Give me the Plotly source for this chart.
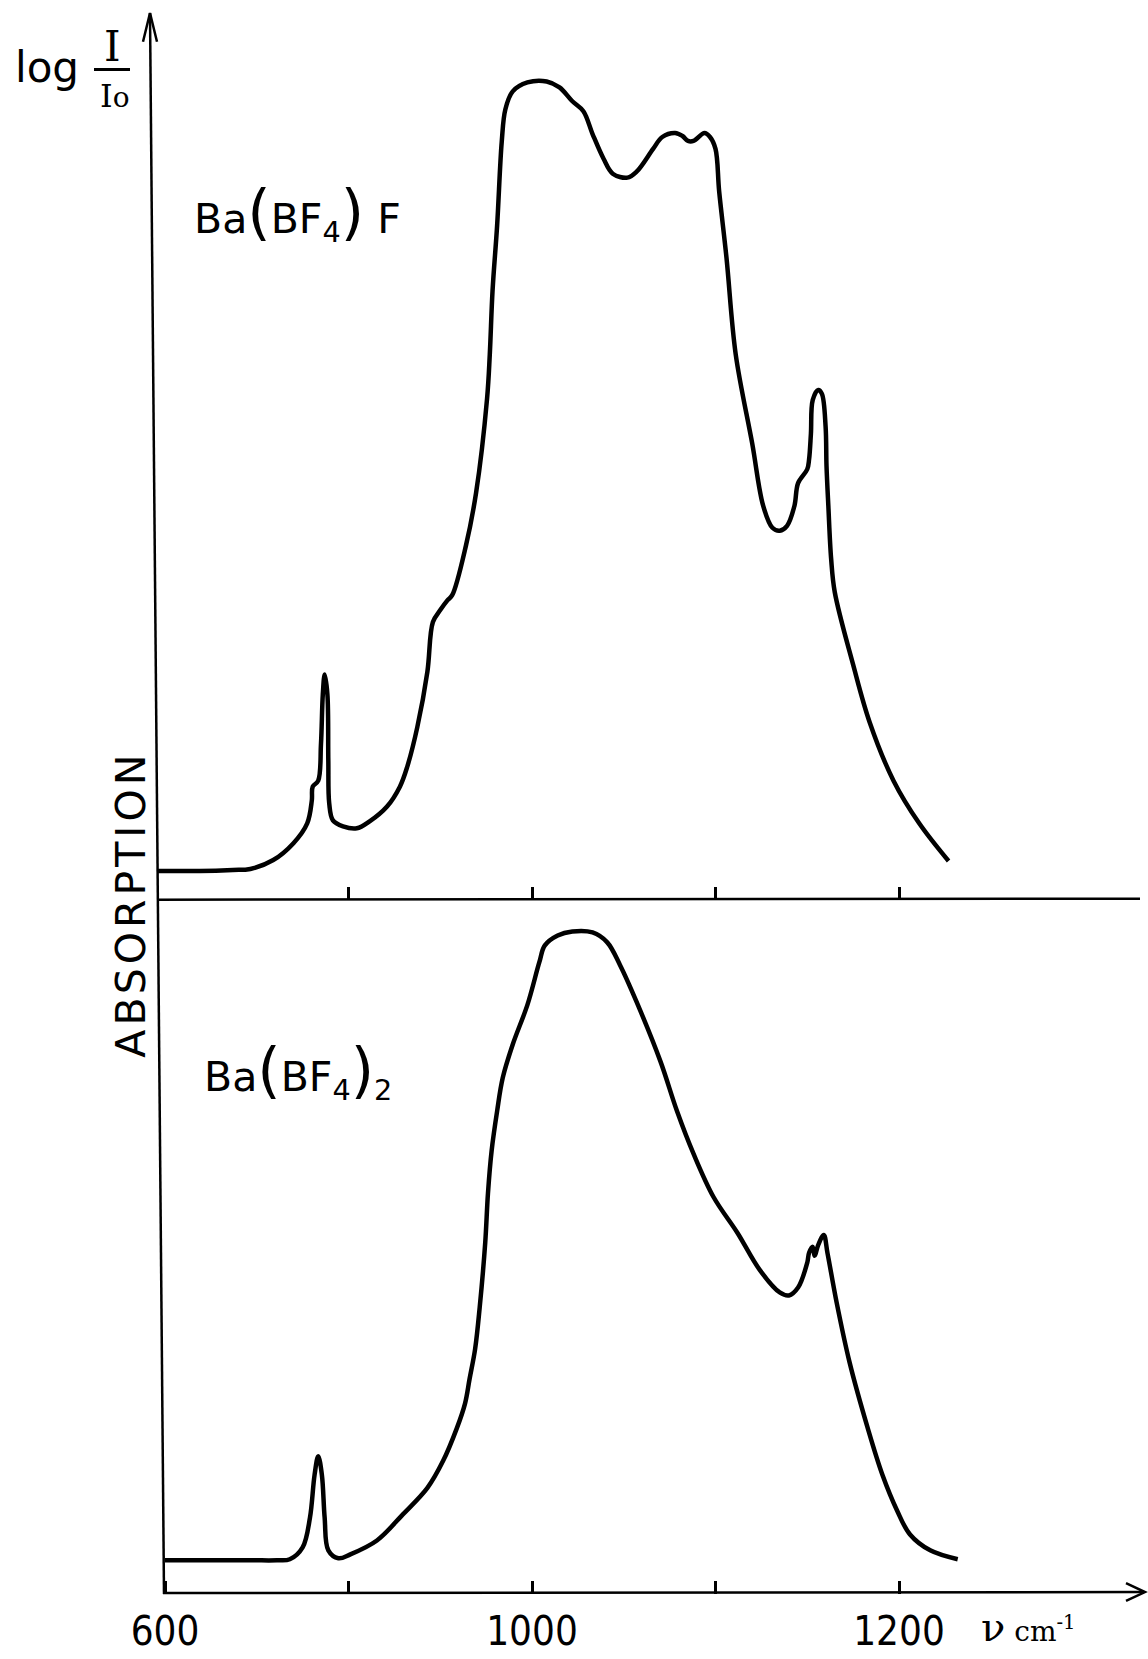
import plotly.graph_objects as go

# ---------------- data ----------------
# Ba(BF4)F  : wavenumber (cm-1) / relative absorption
top_wn = [592, 638, 674, 693, 718, 740, 755, 760, 761, 767, 770, 772, 774, 777, 778, 779,
          783, 794, 809, 823, 842, 856, 864, 875, 886, 892, 900, 908, 913, 928, 939, 951,
          954, 957, 962, 967, 971, 979, 995, 1008, 1015, 1022, 1028, 1033, 1039, 1044,
          1052, 1057, 1066, 1071, 1078, 1082, 1085, 1088, 1094, 1097, 1100, 1102, 1106,
          1111, 1120, 1126, 1131, 1135, 1139, 1143, 1145, 1150, 1151, 1152, 1153, 1156,
          1158, 1160, 1160.5, 1161.5, 1163, 1165, 1175, 1184, 1197, 1211, 1227]
top_abs = [2.9, 2.9, 3.0, 3.1, 4.0, 5.7, 7.7, 10.0, 11.4, 12.0, 15.7, 20.7, 22.7, 20.7, 14.0, 9.7,
           8.0, 7.4, 7.2, 7.9, 9.4, 11.4, 13.4, 17.4, 23.0, 28.0, 29.2, 30.2, 30.7, 35.7, 41.0, 50.5,
           55.0, 61.4, 68.0, 76.4, 79.7, 81.5, 82.4, 82.5, 81.9, 80.5, 79.5, 77.2, 74.7, 73.2,
           72.8, 73.4, 75.7, 76.9, 77.3, 77.0, 76.5, 76.5, 77.3, 76.9, 75.7, 71.4, 64.7,
           55.0, 46.0, 39.7, 37.5, 37.2, 37.7, 39.7, 42.0, 43.4, 44.4, 47.0, 50.4, 51.4,
           51.0, 47.7, 43.7, 39.7, 34.4, 31.0, 23.7, 17.9, 12.0, 7.7, 3.9]

# Ba(BF4)2
bot_wn = [600, 693, 722, 736, 750, 758, 763, 767, 771, 774, 778, 789, 802, 831, 859, 886,
          903, 918, 927, 932, 938, 943, 949, 952, 956, 962, 968, 979, 995, 1004, 1007, 1014,
          1022, 1033, 1041, 1048, 1057, 1070, 1079, 1088, 1099, 1112, 1124, 1135, 1140,
          1145, 1150, 1151, 1153, 1154, 1156, 1159, 1161, 1166, 1173, 1183, 1191, 1199,
          1206, 1217, 1232]
bot_abs = [3.4, 3.4, 3.4, 3.5, 4.7, 7.7, 12.0, 13.9, 12.0, 7.7, 4.4, 3.6, 4.0, 5.4, 8.0, 10.7,
           13.4, 16.7, 19.2, 21.7, 24.7, 28.9, 35.4, 40.4, 44.7, 48.7, 52.0, 55.4, 59.4, 63.7, 65.4, 66.4,
           66.8, 66.7, 65.7, 63.4, 59.7, 53.7, 48.7, 44.4, 40.0, 36.4, 32.7, 30.4, 30.1,
           30.9, 33.4, 34.4, 35.0, 34.1, 35.2, 36.2, 34.4, 29.4, 23.4, 16.7, 12.0, 8.4,
           6.0, 4.4, 3.5]

tick_wn = [600, 800, 1000, 1100, 1200]
tick_text = ["600", "", "1000", "", "1200"]


# the spectrometer chart changes scale at 1000 cm-1 (600-1000 compressed 2:1)
def scale(w):
    return w if w >= 1000 else 1000 - (1000 - w) / 2.0


# ---------------- layout helpers (pixel -> paper) ----------------
W, H = 1148, 1659
ML, MR, MT, MB = 150, 5, 13, 52
PW, PH = W - ML - MR, H - MT - MB


def PX(x):
    return (x - ML) / PW


def PY(y):
    return (H - MB - y) / PH


split = PY(907)

fig = go.Figure()
line = dict(color="black", width=4.5, shape="spline", smoothing=1.0)
fig.add_trace(go.Scatter(x=[scale(w) for w in top_wn], y=top_abs, mode="lines",
                         line=line, xaxis="x2", yaxis="y2", showlegend=False,
                         name="Ba(BF4)F"))
fig.add_trace(go.Scatter(x=[scale(w) for w in bot_wn], y=bot_abs, mode="lines",
                         line=line, xaxis="x", yaxis="y", showlegend=False,
                         name="Ba(BF4)2"))

xr = [800 - (165 - ML) / 1.835, 800 + (W - MR - 165) / 1.835]
tickfont = dict(family="Liberation Sans Narrow, DejaVu Sans Condensed, sans-serif",
                size=40, color="black")
common_x = dict(range=xr, showgrid=False, zeroline=False, showline=False,
                ticks="inside", ticklen=13, tickwidth=2.5, tickcolor="black")

fig.update_layout(
    width=W, height=H,
    margin=dict(l=ML, r=MR, t=MT, b=MB),
    paper_bgcolor="white", plot_bgcolor="white",
    xaxis=dict(domain=[0, 1], anchor="y", tickmode="array",
               tickvals=[scale(w) for w in tick_wn], ticktext=tick_text,
               tickfont=tickfont, ticklabelstandoff=10, **common_x),
    xaxis2=dict(domain=[0, 1], anchor="y2", matches="x", tickmode="array",
                tickvals=[scale(w) for w in tick_wn[1:]], showticklabels=False,
                **common_x),
    yaxis=dict(domain=[0, split], range=[0, 70], visible=False),
    yaxis2=dict(domain=[split, 1], range=[0, (907 - MT) / 10.0], visible=False),
)

ax = dict(type="line", xref="paper", yref="paper", line=dict(color="black", width=2.5))
shapes = [
    dict(x0=PX(164), y0=PY(1607), x1=PX(150), y1=PY(13), **ax),            # y axis
    dict(x0=PX(163), y0=PY(1606), x1=PX(1144), y1=PY(1605), **ax),         # bottom x axis
    dict(x0=PX(157), y0=PY(907), x1=PX(1140), y1=PY(906), **ax),           # middle line
    dict(type="path", xref="paper", yref="paper",
         path=f"M {PX(143)} {PY(42)} L {PX(150)} {PY(13)} L {PX(157)} {PY(42)}",
         line=dict(color="black", width=2.5)),
    dict(type="path", xref="paper", yref="paper",
         path=f"M {PX(1126)} {PY(1596)} L {PX(1145)} {PY(1605)} L {PX(1126)} {PY(1614)}",
         line=dict(color="black", width=2.5)),
    dict(x0=PX(94), y0=PY(70), x1=PX(130), y1=PY(70),
         type="line", xref="paper", yref="paper", line=dict(color="black", width=3)),
]
fig.update_layout(shapes=shapes)

sans = "DejaVu Sans, sans-serif"
serif = "DejaVu Serif, serif"


def ann(text, x, y, size, family=sans, angle=0, xanchor="center"):
    return dict(text=text, x=PX(x), y=PY(y), xref="paper", yref="paper",
                showarrow=False, xanchor=xanchor, yanchor="middle", textangle=angle,
                font=dict(family=family, size=size, color="black"))


big = "<span style='font-size:60px'>"
annotations = [
    ann("log", 47, 68, 42),
    ann("I", 112, 47, 42, family=serif),
    ann("I<span style='font-size:28px'>o</span>", 115, 97, 32, family=serif),
    ann("<span style='letter-spacing:4px'>ABSORPTION</span>", 131, 912, 41, angle=-90),
    ann("Ba" + big + "(</span>BF<sub>4</sub>" + big + ")</span> F", 297, 215, 41),
    ann("Ba" + big + "(</span>BF<sub>4</sub>" + big + ")</span><sub>2</sub>", 298, 1080, 41),
    ann("<span style='font-size:40px'>ν</span> cm<sup>-1</sup>", 979, 1640, 28,
        family=serif, xanchor="left"),
]
fig.update_layout(annotations=annotations)

fig.write_html("out.html")
